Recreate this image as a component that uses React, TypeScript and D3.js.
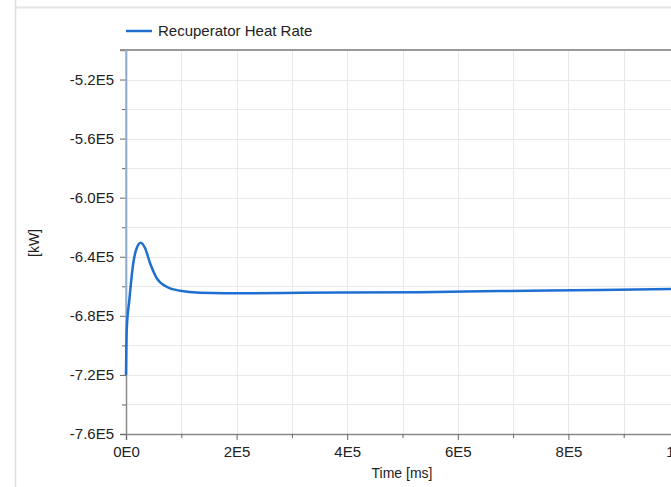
import { useEffect, useRef } from "react";
import * as d3 from "d3";

// values
const timeMs = [0, 1300, 6000, 13200, 19400, 26600, 34400, 43400, 55500, 73600, 97700, 133800, 224200, 314600, 531600, 676300, 857100, 1000000];
const heatRateKW = [-720000, -689600, -669300, -644200, -634100, -630500, -634100, -644200, -654400, -660300, -663000, -664300, -664700, -664400, -664000, -663200, -662500, -661700];

const xMajorTicks = [0, 200000, 400000, 600000, 800000, 1000000];
const xMinorTicks = [100000, 300000, 500000, 700000, 900000];
const yMajorTicks = [-760000, -720000, -680000, -640000, -600000, -560000, -520000];
const yMinorTicks = [-740000, -700000, -660000, -620000, -580000, -540000];

const seriesName = "Recuperator Heat Rate";

function fmt(v: number, digits: number) {
  return v.toExponential(digits).replace("e+", "E").replace("e-", "E-");
}

function Chart() {
  const ref = useRef<SVGSVGElement | null>(null);
  const width = 671;
  const height = 487;

  useEffect(() => {
    const svg = d3.select(ref.current);
    svg.selectAll("*").remove();

    const font = "'Liberation Sans', Arial, sans-serif";
    const x = d3.scaleLinear([0, 1000000], [126, 679]);
    const y = d3.scaleLinear([-760000, -500000], [434, 50]);

    // frame lines of the surrounding panel
    svg.append("line").attr("x1", 15).attr("x2", width).attr("y1", 7.5).attr("y2", 7.5)
      .attr("stroke", "#e4e4e4").attr("stroke-width", 2);
    svg.append("line").attr("x1", 15.5).attr("x2", 15.5).attr("y1", 0).attr("y2", height)
      .attr("stroke", "#dcdcdc").attr("stroke-width", 1.5);

    // grid
    const grid = svg.append("g").attr("stroke", "#e9e9e9").attr("stroke-width", 1);
    [...xMajorTicks, ...xMinorTicks].forEach(t => {
      grid.append("line").attr("x1", Math.round(x(t)) + 0.5).attr("x2", Math.round(x(t)) + 0.5)
        .attr("y1", 50).attr("y2", 434);
    });
    [...yMajorTicks, ...yMinorTicks].forEach(t => {
      grid.append("line").attr("x1", 126).attr("x2", width)
        .attr("y1", Math.round(y(t)) + 0.5).attr("y2", Math.round(y(t)) + 0.5);
    });

    // top border
    svg.append("line").attr("x1", 120).attr("x2", width).attr("y1", 50).attr("y2", 50)
      .attr("stroke", "#9a9a9a").attr("stroke-width", 2);

    // axes
    const xAxis = svg.append("g").attr("transform", "translate(0,434)")
      .call(d3.axisBottom(x).tickValues(xMajorTicks).tickSize(6).tickPadding(6)
        .tickFormat(d => fmt(+d, 0)));
    svg.append("g").attr("transform", "translate(0,434)")
      .call(d3.axisBottom(x).tickValues(xMinorTicks).tickSize(4).tickFormat(() => ""))
      .call(g => g.select(".domain").remove());
    const yAxis = svg.append("g").attr("transform", "translate(126,0)")
      .call(d3.axisLeft(y).tickValues(yMajorTicks).tickSize(6).tickPadding(6)
        .tickFormat(d => fmt(+d, 1)));
    svg.append("g").attr("transform", "translate(126,0)")
      .call(d3.axisLeft(y).tickValues(yMinorTicks).tickSize(4).tickFormat(() => ""))
      .call(g => g.select(".domain").remove());

    [xAxis, yAxis].forEach(a => {
      a.select(".domain").attr("stroke", "#8a8a8a").attr("stroke-width", 1.5);
      a.selectAll("text").attr("font-family", font).attr("font-size", 15).attr("fill", "#222");
    });
    svg.selectAll(".tick line").attr("stroke", "#666");

    // light blue marker along the y axis above the start value
    svg.append("line").attr("x1", 126).attr("x2", 126)
      .attr("y1", 50).attr("y2", y(heatRateKW[0]))
      .attr("stroke", "#8fb5e6").attr("stroke-width", 1.5);

    // series
    const line = d3.line<number>()
      .x((d, i) => x(timeMs[i]))
      .y(d => y(d))
      .curve(d3.curveMonotoneX);
    svg.append("path")
      .attr("d", line(heatRateKW))
      .attr("fill", "none")
      .attr("stroke", "#1f6fd0")
      .attr("stroke-width", 2.5);

    // axis titles
    svg.append("text").attr("x", 402).attr("y", 478).attr("text-anchor", "middle")
      .attr("font-family", font).attr("font-size", 14).attr("fill", "#222")
      .text("Time [ms]");
    svg.append("text").attr("transform", "translate(39,243) rotate(-90)")
      .attr("text-anchor", "middle")
      .attr("font-family", font).attr("font-size", 14).attr("fill", "#222")
      .text("[kW]");

    // legend
    svg.append("line").attr("x1", 126).attr("x2", 152).attr("y1", 31).attr("y2", 31)
      .attr("stroke", "#1f6fd0").attr("stroke-width", 2.5);
    svg.append("text").attr("x", 158).attr("y", 36)
      .attr("font-family", font).attr("font-size", 15).attr("fill", "#222")
      .text(seriesName);
  }, []);

  return (
    <svg ref={ref} width={width} height={height}
      style={{ position: "absolute", left: 0, top: 0, background: "#fff" }} />
  );
}

export default function App() {
  return <Chart />;
}
